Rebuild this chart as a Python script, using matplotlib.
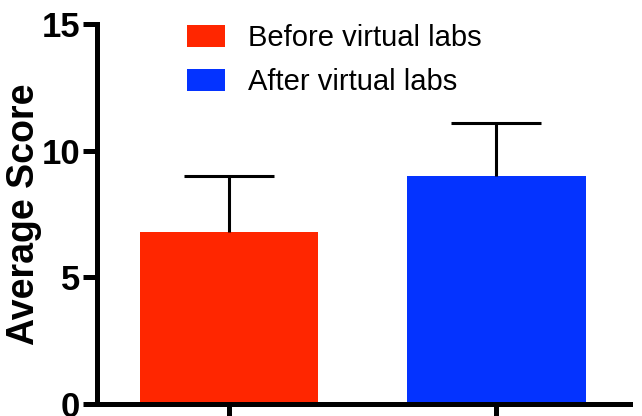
import numpy as np
import matplotlib.pyplot as plt
from matplotlib.patches import Patch

groups = ["Before virtual labs", "After virtual labs"]
means = [6.8, 9.0]
upper_err = [2.2, 2.1]
colors = ["#FF2600", "#0433FF"]
yticks = [0, 5, 10, 15]

plt.rcParams['font.family'] = ['Liberation Sans', 'DejaVu Sans']

fig = plt.figure(figsize=(6.42, 4.16), dpi=100)
ax = fig.add_axes([97 / 642, 12 / 416, 533 / 642, 380 / 416])

x = np.arange(len(groups))
ax.bar(x, means, width=0.667, color=colors, zorder=1)
eb = ax.errorbar(x, means, yerr=[[0] * len(means), upper_err], fmt='none',
                 ecolor='black', elinewidth=2.2, capsize=32.5, capthick=2.2, zorder=2)
# only the upper cap, like the original
eb[1][0].set_visible(False)

ax.set_xlim(-0.495, 1.5)
ax.set_ylim(0, 15)
ax.set_yticks(yticks)
ax.set_yticklabels([str(t) for t in yticks], fontsize=25, fontweight='bold')
ax.set_xticks(x)
ax.set_xticklabels([])
ax.tick_params(axis='y', length=10, width=3.6, pad=2)
ax.tick_params(axis='x', length=20, width=3.6)

for s in ['top', 'right']:
    ax.spines[s].set_visible(False)
for s in ['left', 'bottom']:
    ax.spines[s].set_linewidth(3.6)
    ax.spines[s].set_zorder(3)

ax.set_ylabel('Average Score', fontsize=27, fontweight='bold', labelpad=0)

handles = [Patch(facecolor=c, edgecolor='none') for c in colors]
ax.legend(handles, groups, loc='upper left', bbox_to_anchor=(0.169, 1.0),
          frameon=False, fontsize=21, handlelength=1.3, handleheight=0.8,
          handletextpad=0.8, labelspacing=0.55, borderpad=0, borderaxespad=0)

fig.savefig('out.png', dpi=100)
